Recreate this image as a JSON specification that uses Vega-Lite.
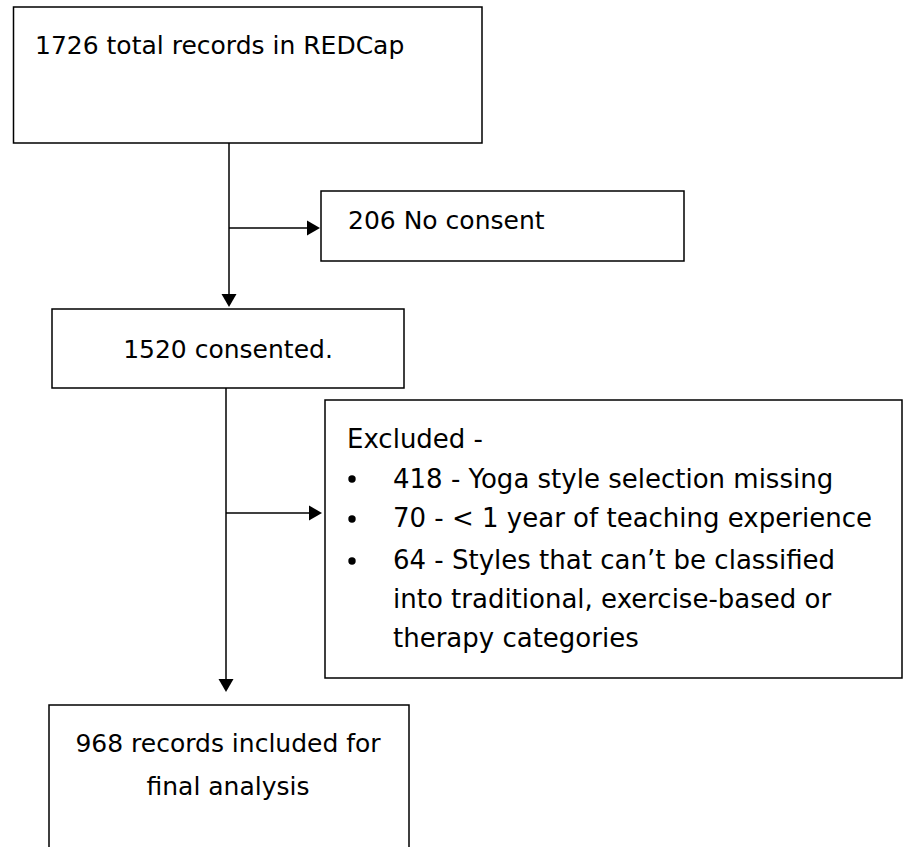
{
  "$schema": "https://vega.github.io/schema/vega-lite/v6.json",
  "width": 903,
  "height": 847,
  "autosize": "none",
  "padding": 0,
  "background": "white",
  "config": {"view": {"stroke": null}},
  "datasets": {
    "boxes": [
      {"id": "total", "x": 13.5, "x2": 482, "y": 7, "y2": 143},
      {"id": "noconsent", "x": 321, "x2": 684, "y": 191, "y2": 261},
      {"id": "consented", "x": 52, "x2": 404, "y": 309, "y2": 388},
      {"id": "excluded", "x": 325, "x2": 902, "y": 400, "y2": 678},
      {"id": "final", "x": 49, "x2": 409, "y": 705, "y2": 870}
    ],
    "lines": [
      {"x": 229, "y": 143, "x2": 229, "y2": 300},
      {"x": 229, "y": 228, "x2": 312, "y2": 228},
      {"x": 226, "y": 388, "x2": 226, "y2": 685},
      {"x": 226, "y": 513, "x2": 314, "y2": 513}
    ],
    "arrows": [
      {"x": 229, "y": 300.5, "shape": "triangle-down"},
      {"x": 313.5, "y": 228, "shape": "triangle-right"},
      {"x": 226, "y": 685.5, "shape": "triangle-down"},
      {"x": 315.5, "y": 513, "shape": "triangle-right"}
    ],
    "bullets": [
      {"x": 352, "y": 479},
      {"x": 352, "y": 519},
      {"x": 352, "y": 561}
    ],
    "labels": [
      {"t": "1726 total records in REDCap", "x": 35, "y": 46, "a": "left"},
      {"t": "206 No consent", "x": 348, "y": 221, "a": "left"},
      {"t": "1520 consented.", "x": 228, "y": 350, "a": "center"},
      {"t": "968 records included for", "x": 228, "y": 744, "a": "center"},
      {"t": "final analysis", "x": 228, "y": 787, "a": "center"}
    ],
    "excl": [
      {"t": "Excluded -", "x": 347, "y": 440},
      {"t": "418 - Yoga style selection missing", "x": 393, "y": 480},
      {"t": "70 - < 1 year of teaching experience", "x": 393, "y": 519},
      {"t": "64 - Styles that can’t be classified", "x": 393, "y": 561},
      {"t": "into traditional, exercise-based or", "x": 393, "y": 600},
      {"t": "therapy categories", "x": 393, "y": 639}
    ]
  },
  "encoding": {
    "x": {"field": "x", "type": "quantitative", "scale": {"domain": [0, 903], "nice": false, "zero": false}, "axis": null},
    "y": {"field": "y", "type": "quantitative", "scale": {"domain": [0, 847], "nice": false, "zero": false, "reverse": true}, "axis": null}
  },
  "layer": [
    {
      "data": {"name": "boxes"},
      "mark": {"type": "rect", "fill": "white", "stroke": "black", "strokeWidth": 1.5},
      "encoding": {"x2": {"field": "x2"}, "y2": {"field": "y2"}}
    },
    {
      "data": {"name": "lines"},
      "mark": {"type": "rule", "color": "black", "strokeWidth": 1.5},
      "encoding": {"x2": {"field": "x2"}, "y2": {"field": "y2"}}
    },
    {
      "data": {"name": "arrows"},
      "mark": {"type": "point", "filled": true, "color": "black", "opacity": 1, "size": 225, "strokeWidth": 0},
      "encoding": {"shape": {"field": "shape", "type": "nominal", "scale": null}}
    },
    {
      "data": {"name": "bullets"},
      "mark": {"type": "point", "shape": "circle", "filled": true, "color": "black", "opacity": 1, "size": 55, "strokeWidth": 0},
      "encoding": {}
    },
    {
      "data": {"name": "labels"},
      "transform": [{"filter": "datum.a === 'left'"}],
      "mark": {"type": "text", "align": "left", "baseline": "middle", "font": "DejaVu Sans", "fontSize": 25, "color": "black"},
      "encoding": {"text": {"field": "t"}}
    },
    {
      "data": {"name": "labels"},
      "transform": [{"filter": "datum.a === 'center'"}],
      "mark": {"type": "text", "align": "center", "baseline": "middle", "font": "DejaVu Sans", "fontSize": 25, "color": "black"},
      "encoding": {"text": {"field": "t"}}
    },
    {
      "data": {"name": "excl"},
      "mark": {"type": "text", "align": "left", "baseline": "middle", "font": "DejaVu Sans", "fontSize": 26, "color": "black"},
      "encoding": {"text": {"field": "t"}}
    }
  ]
}
